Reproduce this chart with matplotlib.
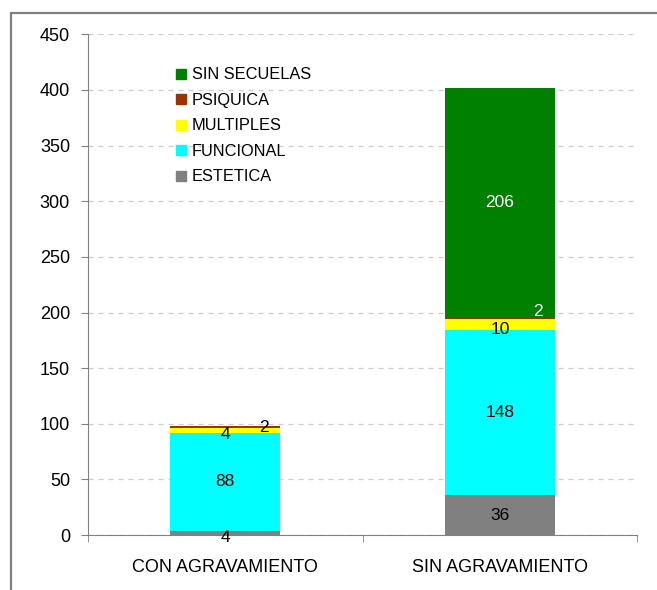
import numpy as np
import matplotlib.pyplot as plt
from matplotlib.patches import Rectangle
from matplotlib.lines import Line2D

plt.rcParams['font.family'] = ['Liberation Sans', 'DejaVu Sans']

categories = ['CON AGRAVAMIENTO', 'SIN AGRAVAMIENTO']
series = ['ESTETICA', 'FUNCIONAL', 'MULTIPLES', 'PSIQUICA', 'SIN SECUELAS']
estetica = [4, 36]
funcional = [88, 148]
multiples = [4, 10]
psiquica = [2, 2]
sin_secuelas = [0, 206]
colors = ['#808080', '#00FFFF', '#FFFF00', '#993300', '#008000']


def main():
	fig = plt.figure(figsize=(6.57, 5.9), dpi=100)
	ax = fig.add_axes([0.134, 0.093, 0.836, 0.849])

	# outer frame, cut by the image edges
	fig.patches.append(Rectangle((0.0167, -0.1), 1.2, 1.078, transform=fig.transFigure,
		fill=False, edgecolor='#808080', linewidth=1.6))

	x = np.arange(len(categories))
	values = [estetica, funcional, multiples, psiquica, sin_secuelas]
	bottom = np.zeros(len(categories))
	for name, vals, c in zip(series, values, colors):
		vals = np.array(vals, dtype=float)
		ax.bar(x, vals, 0.4, bottom=bottom, color=c, label=name, zorder=2)
		for i in range(len(categories)):
			v = vals[i]
			if v <= 0:
				continue
			tx = x[i]
			ty = bottom[i] + v / 2.0
			tcol = 'black'
			if name == 'PSIQUICA':
				tx = x[i] + 0.14
				ty = bottom[i] + v / 2.0 + (0 if i == 0 else 6)
				if i == 1:
					tcol = 'white'
			if name == 'SIN SECUELAS':
				tcol = 'white'
			if name == 'MULTIPLES':
				ty -= 4
			if name == 'ESTETICA' and i == 0:
				ty -= 4
			ax.text(tx, ty, '%d' % v, ha='center', va='center', fontsize=12.5,
				color=tcol, zorder=3)
		bottom = bottom + vals

	ax.set_xlim(-0.5, 1.5)
	ax.set_ylim(0, 450)
	ax.set_yticks(np.arange(0, 451, 50))
	ax.set_xticks(x)
	ax.set_xticklabels(categories)
	ax.set_xticks([-0.5, 0.5, 1.5], minor=True)
	ax.tick_params(axis='x', which='major', length=0, pad=17, labelsize=13)
	ax.tick_params(axis='x', which='minor', length=5, color='#808080')
	ax.tick_params(axis='y', length=5, color='#808080', labelsize=13, pad=8)
	ax.yaxis.grid(True, linestyle=(0, (4, 4)), color='#cccccc', linewidth=0.9, zorder=0)
	ax.set_axisbelow(True)
	for s in ['top', 'right']:
		ax.spines[s].set_visible(False)
	for s in ['left', 'bottom']:
		ax.spines[s].set_color('#808080')

	handles = [Line2D([], [], marker='s', linestyle='none', markersize=7.5,
		markerfacecolor=c, markeredgecolor=c) for c in colors]
	ax.legend(handles[::-1], series[::-1], loc='upper left',
		bbox_to_anchor=(0.149, 0.947), frameon=False, fontsize=11.8,
		handlelength=0.6, handletextpad=0.35, labelspacing=0.64, borderaxespad=0)

	fig.savefig('out.png', dpi=100)


if __name__ == '__main__':
	main()
